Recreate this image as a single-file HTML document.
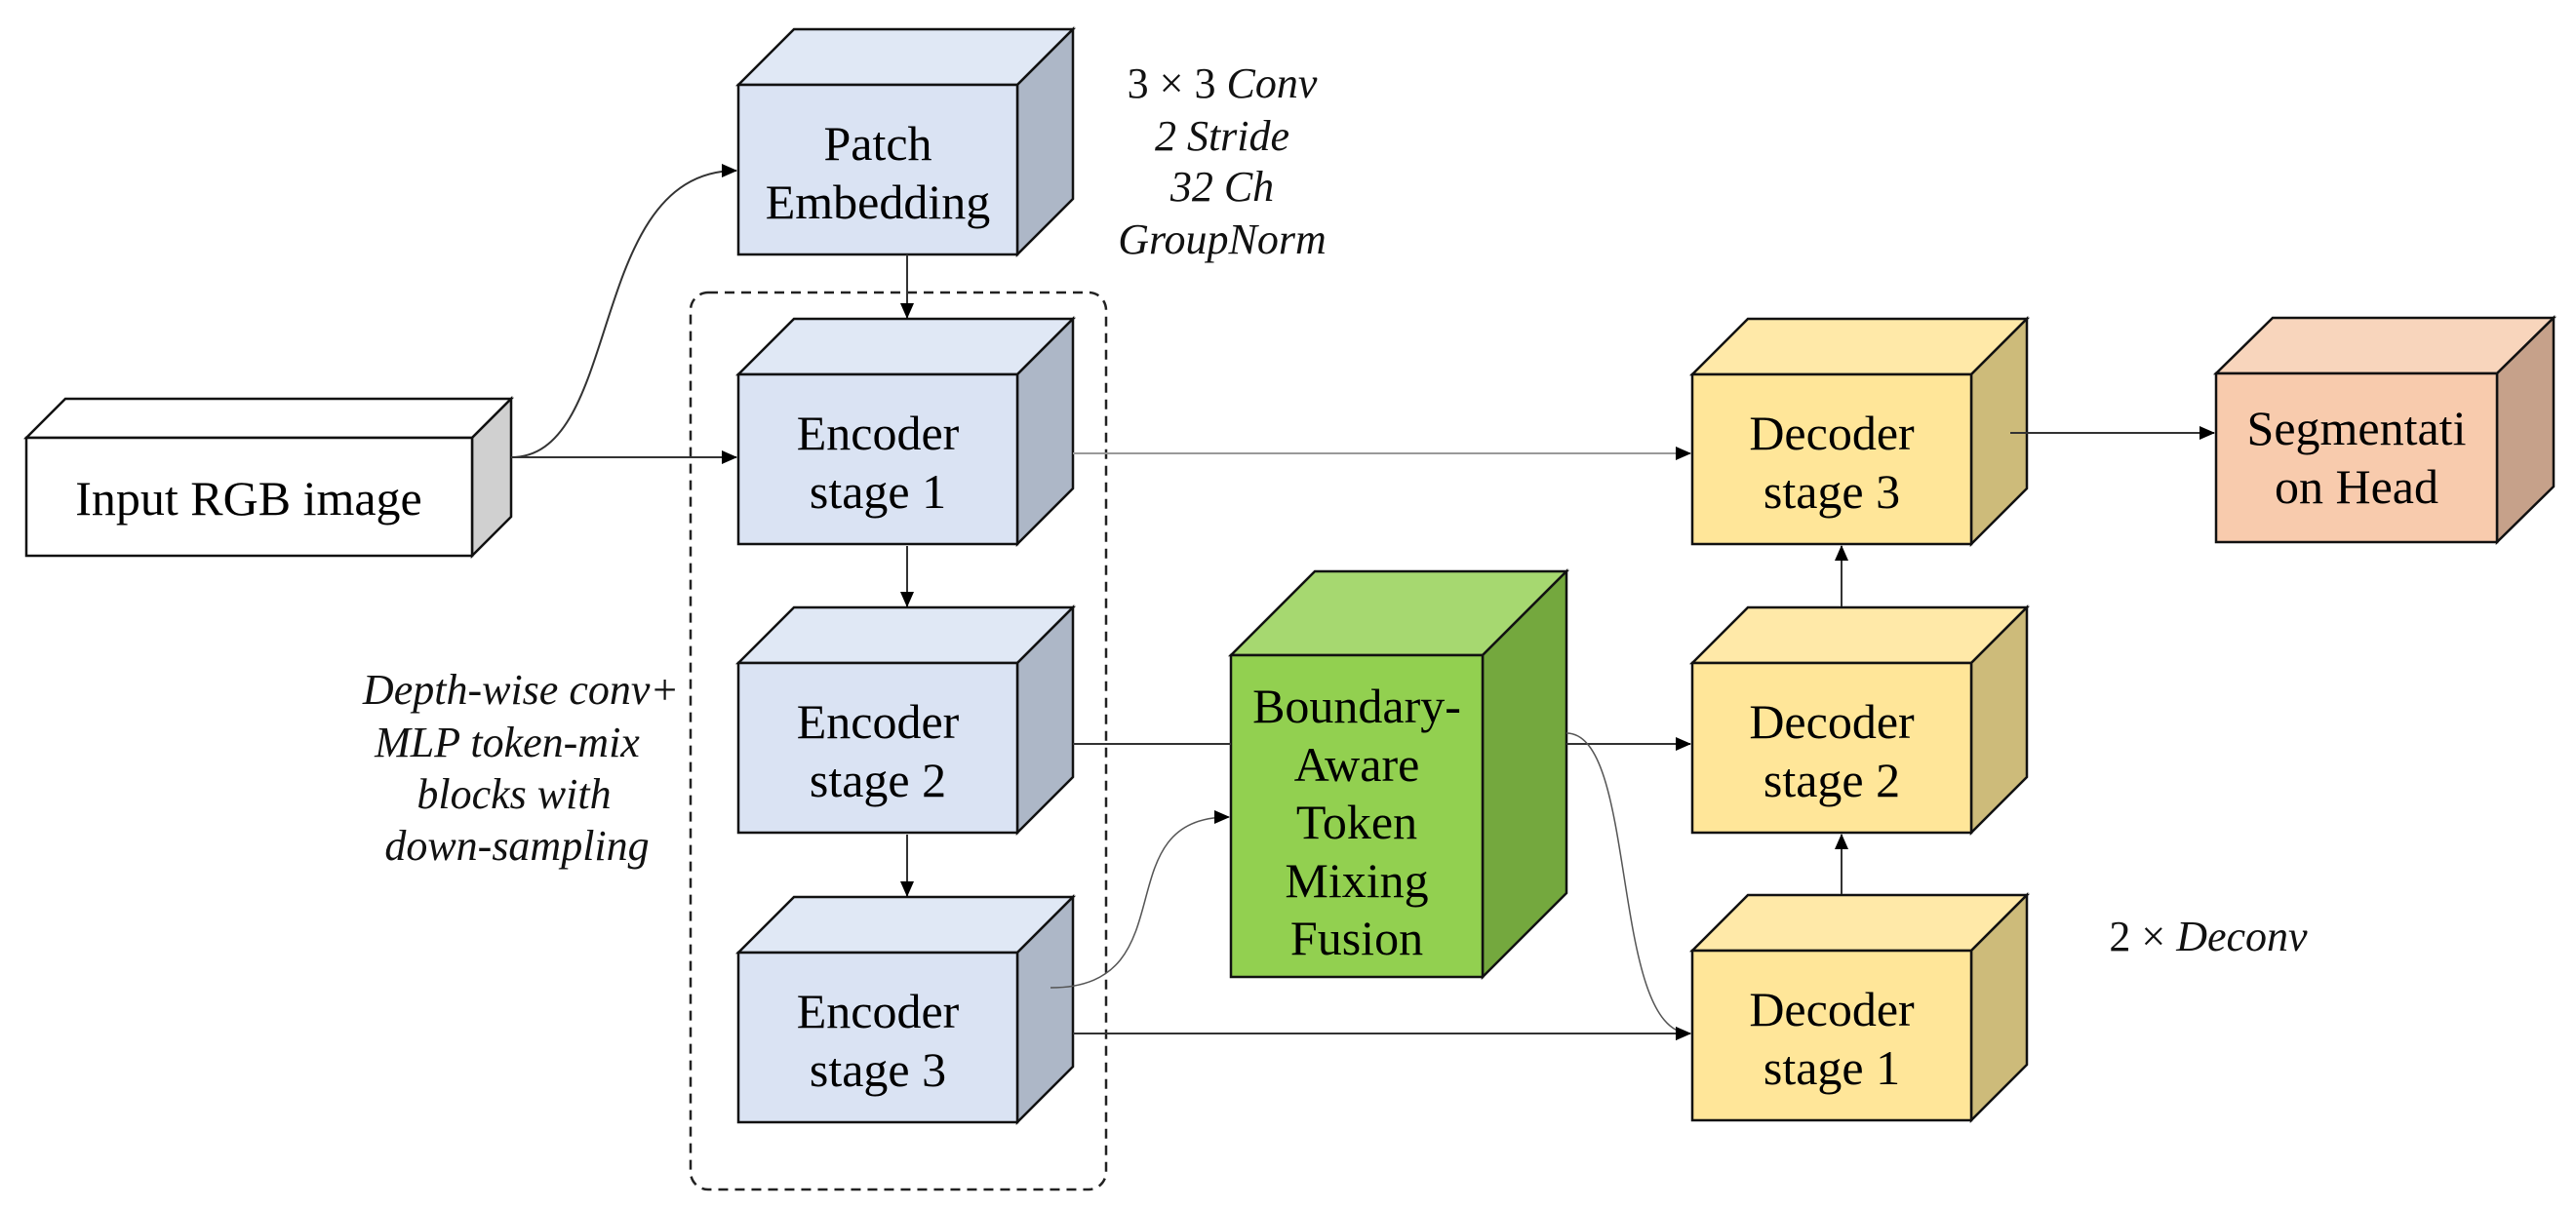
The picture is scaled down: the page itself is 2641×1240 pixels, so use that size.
<!DOCTYPE html>
<html><head><meta charset="utf-8"><style>
html,body{margin:0;padding:0;background:#fff;}
svg{display:block;}
.lbl{font-family:"Liberation Serif","Times New Roman",serif;font-size:50px;fill:#000;text-anchor:middle;}
.it{font-family:"Liberation Serif","Times New Roman",serif;font-style:italic;font-size:44px;fill:#111;text-anchor:middle;}
</style></head><body>
<svg width="2641" height="1240" viewBox="0 0 2641 1240" xmlns="http://www.w3.org/2000/svg">
<defs>
<marker id="ah" markerWidth="16" markerHeight="14" refX="15" refY="7" orient="auto" markerUnits="userSpaceOnUse" viewBox="0 0 16 14">
<path d="M0,0 L16,7 L0,14 z" fill="#000"/></marker>
</defs>

<!-- dashed group -->
<rect x="708" y="300" width="426" height="920" rx="18" fill="none" stroke="#222" stroke-width="2.5" stroke-dasharray="10,7"/>

<g stroke="#111" stroke-width="2.5" stroke-linejoin="miter">
<!-- Input -->
<polygon points="27,449 67,409 524,409 484,449" fill="#fff"/>
<polygon points="484,449 524,409 524,530 484,570" fill="#d0d0d0"/>
<rect x="27" y="449" width="457" height="121" fill="#fff"/>
<!-- Patch -->
<polygon points="757,87 814,30 1100,30 1043,87" fill="#e0e8f5"/>
<polygon points="1043,87 1100,30 1100,204 1043,261" fill="#adb7c7"/>
<rect x="757" y="87" width="286" height="174" fill="#dae3f3"/>
<!-- Enc1 -->
<polygon points="757,384 814,327 1100,327 1043,384" fill="#e0e8f5"/>
<polygon points="1043,384 1100,327 1100,501 1043,558" fill="#adb7c7"/>
<rect x="757" y="384" width="286" height="174" fill="#dae3f3"/>
<!-- Enc2 -->
<polygon points="757,680 814,623 1100,623 1043,680" fill="#e0e8f5"/>
<polygon points="1043,680 1100,623 1100,797 1043,854" fill="#adb7c7"/>
<rect x="757" y="680" width="286" height="174" fill="#dae3f3"/>
<!-- Enc3 -->
<polygon points="757,977 814,920 1100,920 1043,977" fill="#e0e8f5"/>
<polygon points="1043,977 1100,920 1100,1094 1043,1151" fill="#adb7c7"/>
<rect x="757" y="977" width="286" height="174" fill="#dae3f3"/>
<!-- Green -->
<polygon points="1262,672 1348,586 1606,586 1520,672" fill="#a6d870"/>
<polygon points="1520,672 1606,586 1606,916 1520,1002" fill="#74a83e"/>
<rect x="1262" y="672" width="258" height="330" fill="#92d050"/>
<!-- Dec3 -->
<polygon points="1735,384 1792,327 2078,327 2021,384" fill="#ffe9a8"/>
<polygon points="2021,384 2078,327 2078,501 2021,558" fill="#cdbb7a"/>
<rect x="1735" y="384" width="286" height="174" fill="#ffe699"/>
<!-- Dec2 -->
<polygon points="1735,680 1792,623 2078,623 2021,680" fill="#ffe9a8"/>
<polygon points="2021,680 2078,623 2078,797 2021,854" fill="#cdbb7a"/>
<rect x="1735" y="680" width="286" height="174" fill="#ffe699"/>
<!-- Dec1 -->
<polygon points="1735,975 1792,918 2078,918 2021,975" fill="#ffe9a8"/>
<polygon points="2021,975 2078,918 2078,1092 2021,1149" fill="#cdbb7a"/>
<rect x="1735" y="975" width="286" height="174" fill="#ffe699"/>
<!-- Seg -->
<polygon points="2272,383 2330,326 2618,326 2560,383" fill="#f8d5bc"/>
<polygon points="2560,383 2618,326 2618,499 2560,556" fill="#c6a18a"/>
<rect x="2272" y="383" width="288" height="173" fill="#f8cbad"/>
</g>

<!-- connectors -->
<g fill="none" stroke="#333" stroke-width="2">
<path d="M524,469 L755,469" marker-end="url(#ah)"/>
<path d="M524,469 C640,469 600,175 755,175" marker-end="url(#ah)"/>
<path d="M930,261 L930,326" marker-end="url(#ah)"/>
<path d="M930,560 L930,622" marker-end="url(#ah)"/>
<path d="M930,856 L930,919" marker-end="url(#ah)"/>
<path d="M1100,465 L1733,465" stroke="#999" marker-end="url(#ah)"/>
<path d="M1100,763 L1262,763"/>
<path d="M1606,763 L1733,763" marker-end="url(#ah)"/>
<path d="M1100,1060 L1733,1060" marker-end="url(#ah)"/>
<path d="M1077,1013 C1220,1013 1130,838 1260,838" stroke="#555" stroke-width="1.5" marker-end="url(#ah)"/>
<path d="M1606,752 C1680,752 1650,1060 1733,1060" stroke="#555" stroke-width="1.5" marker-end="url(#ah)"/>
<path d="M1888,917 L1888,856" marker-end="url(#ah)"/>
<path d="M1888,622 L1888,560" marker-end="url(#ah)"/>
<path d="M2061,444 L2270,444" marker-end="url(#ah)"/>
</g>

<!-- labels -->
<text class="lbl" x="255" y="528">Input RGB image</text>
<text class="lbl" x="900" y="164">Patch</text>
<text class="lbl" x="900" y="224">Embedding</text>
<text class="lbl" x="900" y="461">Encoder</text>
<text class="lbl" x="900" y="521">stage 1</text>
<text class="lbl" x="900" y="757">Encoder</text>
<text class="lbl" x="900" y="817">stage 2</text>
<text class="lbl" x="900" y="1054">Encoder</text>
<text class="lbl" x="900" y="1114">stage 3</text>
<text class="lbl" x="1391" y="741">Boundary-</text>
<text class="lbl" x="1391" y="801">Aware</text>
<text class="lbl" x="1391" y="860">Token</text>
<text class="lbl" x="1391" y="920">Mixing</text>
<text class="lbl" x="1391" y="979">Fusion</text>
<text class="lbl" x="1878" y="461">Decoder</text>
<text class="lbl" x="1878" y="521">stage 3</text>
<text class="lbl" x="1878" y="757">Decoder</text>
<text class="lbl" x="1878" y="817">stage 2</text>
<text class="lbl" x="1878" y="1052">Decoder</text>
<text class="lbl" x="1878" y="1112">stage 1</text>
<text class="lbl" x="2416" y="456">Segmentati</text>
<text class="lbl" x="2416" y="516">on Head</text>

<text class="it" x="1253" y="100"><tspan font-style="normal">3 × 3 </tspan>Conv</text>
<text class="it" x="1253" y="154">2 Stride</text>
<text class="it" x="1253" y="206">32 Ch</text>
<text class="it" x="1253" y="260">GroupNorm</text>

<text class="it" x="534" y="722">Depth-wise conv+</text>
<text class="it" x="520" y="776">MLP token-mix</text>
<text class="it" x="527" y="829">blocks with</text>
<text class="it" x="530" y="882">down-sampling</text>

<text class="it" x="2264" y="975"><tspan font-style="normal">2 × </tspan>Deconv</text>
</svg>
</body></html>
